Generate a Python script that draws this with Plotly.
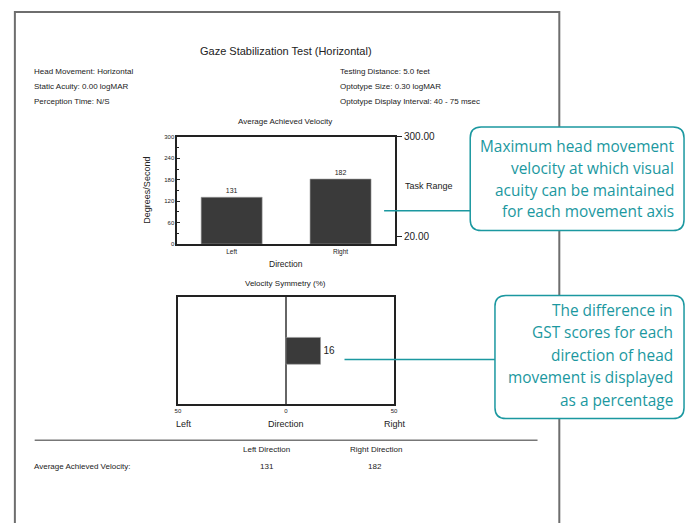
import plotly.graph_objects as go

W, H = 691, 523

# ---------------- data ----------------
directions = ["Left", "Right"]
avg_velocity = [131, 182]
task_range_vals = [20, 300]
task_range_text = ["20.00", "300.00"]
left_ticks = [0, 60, 120, 180, 240, 300]

symmetry_category = ["Symmetry"]
symmetry_value = [16]
symmetry_tickvals = [-50, 0, 50]
symmetry_ticktext = ["50", "0", "50"]

report_title = "Gaze Stabilization Test (Horizontal)"
info_left = ["Head Movement: Horizontal", "Static Acuity: 0.00 logMAR", "Perception Time: N/S"]
info_right = ["Testing Distance: 5.0 feet", "Optotype Size: 0.30 logMAR",
              "Optotype Display Interval: 40 - 75 msec"]
table_headers = ["Left Direction", "Right Direction"]
table_row_label = "Average Achieved Velocity:"

callout1_lines = ["Maximum head movement", "velocity at which visual",
                  "acuity can be maintained", "for each movement axis"]
callout2_lines = ["The difference in", "GST scores for each", "direction of head",
                  "movement is displayed", "as a percentage"]

# ---------------- helpers ----------------
def px(x):
    return x / W

def py(y):
    return 1 - y / H

FONT = "Liberation Sans"
DARK = "#222222"
TEAL = "#1b98a0"
CFONT = "Open Sans"

fig = go.Figure()

# Chart 1: Average Achieved Velocity
fig.add_trace(go.Bar(
    x=directions, y=avg_velocity, xaxis="x", yaxis="y",
    width=0.56, marker=dict(color="#3a3a3a", line=dict(color="#9a9a9a", width=0.6)),
    text=[str(v) for v in avg_velocity], textposition="outside",
    textfont=dict(family=FONT, size=7, color=DARK), cliponaxis=False,
    hoverinfo="skip", showlegend=False,
))
fig.add_trace(go.Scatter(
    x=directions, y=task_range_vals, xaxis="x", yaxis="y2",
    mode="markers", marker=dict(opacity=0), hoverinfo="skip", showlegend=False,
))

# Chart 2: Velocity Symmetry
fig.add_trace(go.Bar(
    x=symmetry_value, y=symmetry_category, orientation="h", xaxis="x3", yaxis="y3",
    width=0.25, marker=dict(color="#3a3a3a", line=dict(color="#9a9a9a", width=0.6)),
    text=[str(v) for v in symmetry_value], textposition="outside",
    textfont=dict(family=FONT, size=10, color=DARK), cliponaxis=False,
    hoverinfo="skip", showlegend=False,
))

axis_common = dict(showgrid=False, showline=True, mirror=True, linecolor=DARK, linewidth=1.5)

fig.update_layout(
    width=W, height=H, margin=dict(l=0, r=0, t=0, b=0),
    paper_bgcolor="white", plot_bgcolor="white",
    font=dict(family=FONT, color=DARK),
    showlegend=False,
    xaxis=dict(domain=[px(176), px(396)], anchor="y", type="category",
               ticks="", tickfont=dict(size=6.5), **axis_common),
    yaxis=dict(domain=[py(242.7), py(134)], anchor="x", range=[0, 300],
               tickvals=left_ticks, ticks="inside", ticklen=3, tickcolor=DARK,
               tickfont=dict(size=6), zeroline=False,
               minor=dict(dtick=30, ticks="inside", ticklen=2, tickcolor=DARK),
               **axis_common),
    yaxis2=dict(overlaying="y", side="right", anchor="x", range=[0, 300],
                tickvals=task_range_vals, ticktext=task_range_text,
                ticks="outside", ticklen=6, tickcolor=DARK, tickwidth=1,
                tickfont=dict(size=10), showgrid=False, zeroline=False, showline=False),
    xaxis3=dict(domain=[px(176.7), px(395)], anchor="y3", range=[-50, 50],
                tickvals=symmetry_tickvals, ticktext=symmetry_ticktext,
                ticks="", tickfont=dict(size=6),
                zeroline=True, zerolinecolor="#666666", zerolinewidth=1.5,
                **axis_common),
    yaxis3=dict(domain=[py(405.7), py(296.7)], anchor="x3", type="category",
                showticklabels=False, ticks="", zeroline=False, **axis_common),
)

# ---------------- shapes ----------------
shapes = []
shapes.append(dict(type="rect", xref="paper", yref="paper",
                   x0=px(12), x1=px(562), y0=py(7), y1=py(540),
                   line=dict(color="#6e6e6e", width=2), fillcolor="rgba(0,0,0,0)", layer="below"))
shapes.append(dict(type="line", xref="paper", yref="paper",
                   x0=px(32), x1=px(540), y0=py(442), y1=py(442),
                   line=dict(color="#777777", width=1.5)))
# connectors
shapes.append(dict(type="line", xref="paper", yref="paper",
                   x0=px(385), x1=px(472), y0=py(209), y1=py(209),
                   line=dict(color=TEAL, width=1.5)))
shapes.append(dict(type="line", xref="paper", yref="paper",
                   x0=px(345), x1=px(497), y0=py(360), y1=py(360),
                   line=dict(color=TEAL, width=1.5)))


def rounded_box(x0, y0, x1, y1, r):
    pts = [
        ("M", (x0 + r, y0)), ("L", (x1 - r, y0)), ("Q", (x1, y0), (x1, y0 + r)),
        ("L", (x1, y1 - r)), ("Q", (x1, y1), (x1 - r, y1)),
        ("L", (x0 + r, y1)), ("Q", (x0, y1), (x0, y1 - r)),
        ("L", (x0, y0 + r)), ("Q", (x0, y0), (x0 + r, y0)),
    ]
    out = []
    for item in pts:
        cmd = item[0]
        coords = " ".join(f"{px(p[0]):.5f},{py(p[1]):.5f}" for p in item[1:])
        out.append(f"{cmd} {coords}")
    return " ".join(out) + " Z"


shapes.append(dict(type="path", xref="paper", yref="paper",
                   path=rounded_box(472, 124, 688, 229, 11),
                   line=dict(color=TEAL, width=1.5), fillcolor="white"))
shapes.append(dict(type="path", xref="paper", yref="paper",
                   path=rounded_box(497, 295, 688, 420, 11),
                   line=dict(color=TEAL, width=1.5), fillcolor="white"))
fig.update_layout(shapes=shapes)

# ---------------- annotations ----------------
ann = []


def text(x, y, s, size, xanchor="center", color=DARK, family=FONT, angle=0):
    ann.append(dict(x=px(x), y=py(y), xref="paper", yref="paper", text=s, showarrow=False,
                    xanchor=xanchor, yanchor="middle", textangle=angle,
                    font=dict(size=size, color=color, family=family)))


text(286, 47, report_title, 11)
for i, s in enumerate(info_left):
    text(29, 68 + 15 * i, s, 8, xanchor="left")
for i, s in enumerate(info_right):
    text(338, 68 + 15 * i, s, 8, xanchor="left")

text(285, 118.5, "Average Achieved Velocity", 8)
text(146, 188, "Degrees/Second", 9, angle=-90)
text(286, 263, "Direction", 8.5)
text(404, 184, "Task Range", 9, xanchor="left")

text(285, 283, "Velocity Symmetry (%)", 8)
text(183, 426, "Left", 9)
text(286, 426, "Direction", 9)
text(396, 426, "Right", 9)

text(266, 451, table_headers[0], 8)
text(377, 451, table_headers[1], 8)
text(29, 469, table_row_label, 8, xanchor="left")
text(267, 469, str(avg_velocity[0]), 8)
text(376, 469, str(avg_velocity[1]), 8)

for i, s in enumerate(callout1_lines):
    text(680, 144 + 22 * i, s, 15.4, xanchor="right", color=TEAL, family=CFONT)
for i, s in enumerate(callout2_lines):
    text(679, 310 + 22.8 * i, s, 15.4, xanchor="right", color=TEAL, family=CFONT)

fig.update_layout(annotations=ann)

fig.write_html(
    "out.html",
    config={"displayModeBar": False},
    post_script="document.body.style.margin='0';document.body.style.overflow='hidden';",
)
